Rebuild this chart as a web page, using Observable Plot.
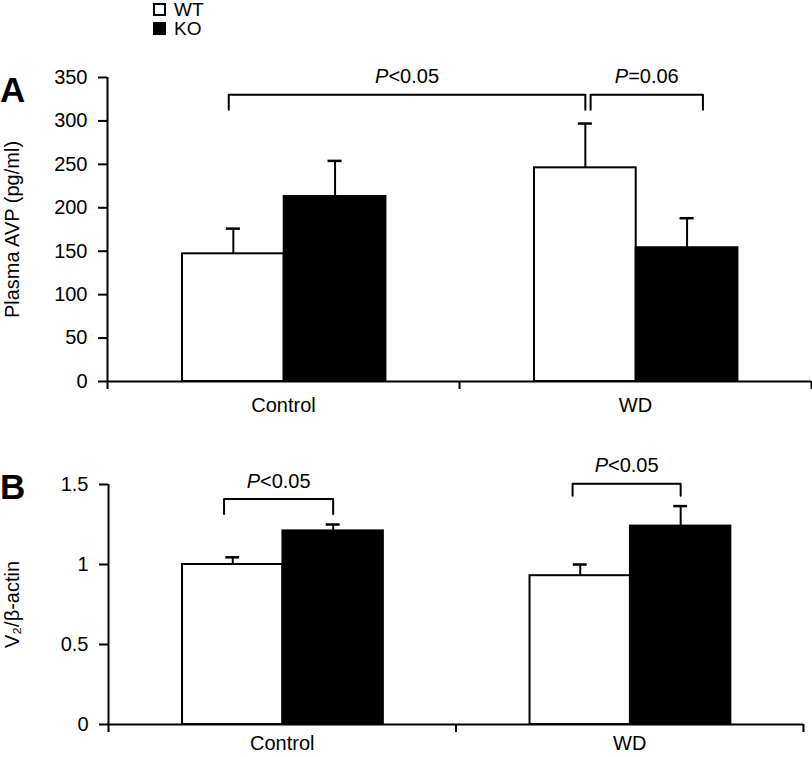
<!DOCTYPE html>
<html><head><meta charset="utf-8">
<script src="https://cdn.jsdelivr.net/npm/d3@7"></script>
<script src="https://cdn.jsdelivr.net/npm/@observablehq/plot@0.6"></script>
<style>
body{margin:0;background:#fff;font-family:"Liberation Sans",Arial,sans-serif;}
#fig{position:relative;width:812px;height:757px;overflow:hidden;}
.abs{position:absolute;}
.panel{font-weight:bold;font-size:35px;line-height:1;}
.leg{display:flex;align-items:center;font-size:19px;line-height:1;}
.sw{width:9px;height:9px;border:2px solid #000;box-sizing:content-box;margin-right:8px;}
</style></head><body><div id="fig"></div>
<script>
// ---- data ----
const groups = ["Control", "WD"];
const series = ["WT", "KO"];
const avpWT = [147, 246];
const avpKO = [213, 154];
const avpErrWT = [29, 51];
const avpErrKO = [41, 34];
const v2WT = [1.00, 0.93];
const v2KO = [1.21, 1.24];
const v2ErrWT = [0.045, 0.07];
const v2ErrKO = [0.04, 0.125];
const avpTicks = [0, 50, 100, 150, 200, 250, 300, 350];
const v2Ticks = [0, 0.5, 1, 1.5];
const avpBrackets = [
  {from: ["Control", "WT"], to: ["WD", "WT"], top: 330, drop: 313, label: "P<0.05", labelY: 351},
  {from: ["WD", "WT"], to: ["WD", "KO"], top: 330, drop: 313, label: "P=0.06", labelY: 351}
];
const v2Brackets = [
  {from: ["Control", "WT"], to: ["Control", "KO"], top: 1.41, drop: 1.315, label: "P<0.05", labelY: 1.52},
  {from: ["WD", "WT"], to: ["WD", "KO"], top: 1.504, drop: 1.43, label: "P<0.05", labelY: 1.62}
];

// ---- layout helpers ----
const BAR_START = 0.213, BAR_W = 0.289, CAP = 0.02;
function barRows(wt, ko, ewt, eko) {
  const rows = [];
  groups.forEach((g, gi) => {
    [[wt, ewt], [ko, eko]].forEach(([v, e], si) => {
      const x1 = gi + BAR_START + si * BAR_W;
      rows.push({group: g, series: series[si], x1, x2: x1 + BAR_W, c: x1 + BAR_W / 2, v: v[gi], e: e[gi]});
    });
  });
  return rows;
}
function center(ref) {
  const gi = groups.indexOf(ref[0]), si = series.indexOf(ref[1]);
  return gi + BAR_START + si * BAR_W + BAR_W / 2;
}
// small visual nudges of bracket ends (x units)
const nudgesA = [[-0.013, 0], [0.015, 0.045]];
const nudgesB = [[-0.025, 0], [-0.022, 0]];
function bracketData(brs, nudges) {
  const pts = [], labels = [];
  brs.forEach((b, i) => {
    const a = center(b.from) + nudges[i][0], z = center(b.to) + nudges[i][1];
    pts.push({id: i, x: a, y: b.drop}, {id: i, x: a, y: b.top}, {id: i, x: z, y: b.top}, {id: i, x: z, y: b.drop});
    labels.push({x: (a + z) / 2, y: b.labelY, label: b.label});
  });
  return {pts, labels};
}

function panel({rows, ticks, yMax, yLabel, brs, nudges, marginLeft, marginRight, marginTop, marginBottom, height, catPad}) {
  const br = bracketData(brs, nudges);
  return Plot.plot({
    width: 812, height, marginLeft, marginRight, marginTop, marginBottom,
    style: {fontFamily: '"Liberation Sans", Arial, sans-serif', fontSize: "20px", color: "#000", background: "#fff", overflow: "visible"},
    x: {domain: [0, 2], axis: null},
    y: {domain: [0, yMax], axis: null},
    marks: [
      Plot.rectY(rows, {x1: "x1", x2: "x2", y1: 0, y2: "v", fill: d => d.series === "WT" ? "#fff" : "#000", stroke: "#000", strokeWidth: 2}),
      Plot.ruleX(rows, {x: "c", y1: "v", y2: d => d.v + d.e, stroke: "#000", strokeWidth: 2}),
      Plot.ruleY(rows, {y: d => d.v + d.e, x1: d => d.c - CAP, x2: d => d.c + CAP, stroke: "#000", strokeWidth: 2.5}),
      Plot.ruleX([0], {y1: 0, y2: yMax, stroke: "#000", strokeWidth: 2}),
      Plot.ruleY([0], {stroke: "#000", strokeWidth: 2}),
      Plot.axisY(ticks, {anchor: "left", tickSize: 9, tickPadding: 11, strokeWidth: 2, fontSize: 20, tickFormat: d => String(d),
        label: yLabel, labelAnchor: "center", labelArrow: "none", labelOffset: marginLeft - 4}),
      Plot.axisX([0, 1, 2], {tickSize: 8, strokeWidth: 2, tickFormat: () => "", label: null}),
      Plot.axisX([0.5, 1.5], {tickSize: 0, tickPadding: catPad, fontSize: 20, tickFormat: d => groups[Math.floor(d)], label: null}),
      Plot.line(br.pts, {x: "x", y: "y", z: "id", stroke: "#000", strokeWidth: 2}),
      Plot.text(br.labels, {x: "x", y: "y", text: "label", fontSize: 20})
    ]
  });
}

const fig = document.getElementById("fig");
function place(el, left, top) { el.classList.add("abs"); el.style.left = left + "px"; el.style.top = top + "px"; fig.appendChild(el); return el; }

const chartA = panel({rows: barRows(avpWT, avpKO, avpErrWT, avpErrKO), ticks: avpTicks, yMax: 350,
  yLabel: "Plasma AVP (pg/ml)", brs: avpBrackets, nudges: nudgesA,
  marginLeft: 107, marginRight: 1, marginTop: 37, marginBottom: 40, height: 381, catPad: 16});
place(chartA, 0, 40);

const chartB = panel({rows: barRows(v2WT, v2KO, v2ErrWT, v2ErrKO), ticks: v2Ticks, yMax: 1.5,
  yLabel: "V₂/β-actin", brs: v2Brackets, nudges: nudgesB,
  marginLeft: 108, marginRight: 9, marginTop: 44, marginBottom: 33, height: 317, catPad: 11});
place(chartB, 0, 440);

// italic P in significance labels
fig.querySelectorAll("svg text").forEach(t => {
  const s = t.textContent;
  if (/^P[<=]/.test(s) && t.children.length === 0) {
    t.textContent = "";
    const ns = "http://www.w3.org/2000/svg";
    const a = document.createElementNS(ns, "tspan"); a.setAttribute("font-style", "italic"); a.textContent = "P";
    const b = document.createElementNS(ns, "tspan"); b.textContent = s.slice(1);
    t.appendChild(a); t.appendChild(b);
  }
});

// panel letters
const la = document.createElement("div"); la.className = "panel"; la.textContent = "A"; place(la, 0, 72);
const lb = document.createElement("div"); lb.className = "panel"; lb.textContent = "B"; place(lb, 0, 469);

// legend
series.forEach((s, i) => {
  const row = document.createElement("div"); row.className = "leg";
  const sw = document.createElement("div"); sw.className = "sw"; sw.style.background = i === 0 ? "#fff" : "#000";
  const tx = document.createElement("span"); tx.textContent = s;
  row.appendChild(sw); row.appendChild(tx);
  place(row, 153, 0 + i * 19);
});
</script></body></html>
